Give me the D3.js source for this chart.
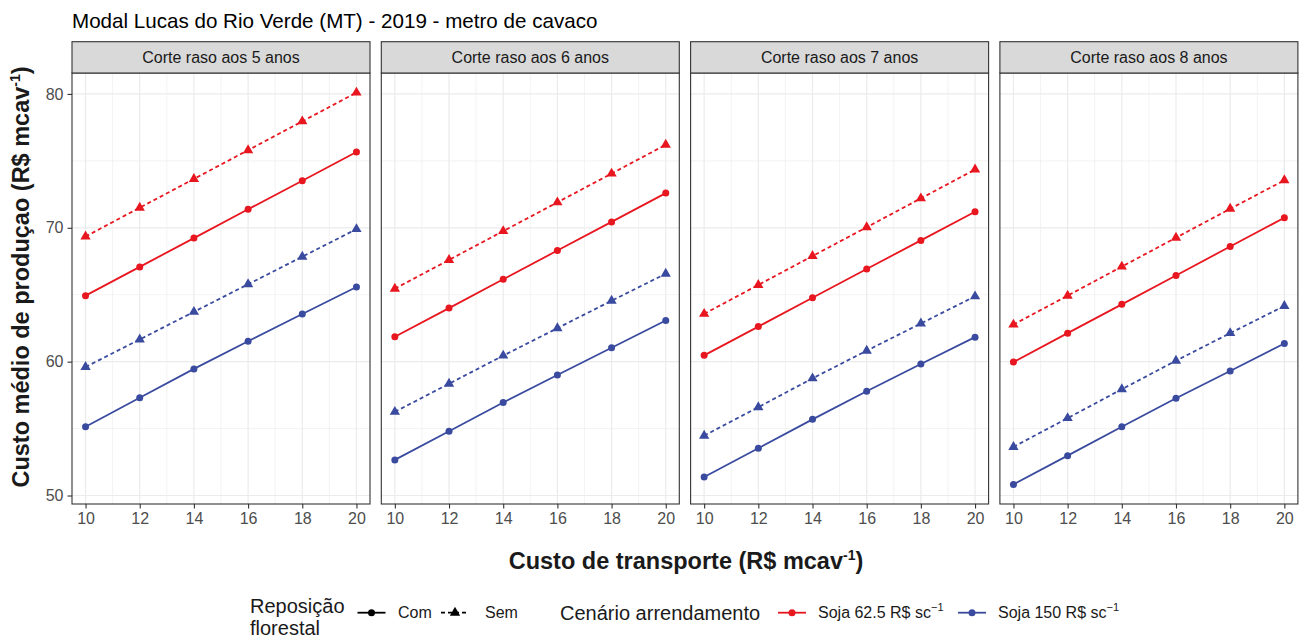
<!DOCTYPE html>
<html>
<head>
<meta charset="utf-8">
<script src="https://cdn.jsdelivr.net/npm/d3@7"></script>
<style>
  html, body { margin: 0; padding: 0; background: #ffffff; }
  svg { display: block; font-family: "Liberation Sans", Arial, Helvetica, sans-serif; }
</style>
</head>
<body>
<svg id="chart" width="1310" height="641"></svg>
<script>
// Transport cost (R$ per m³ of chips) on the x axis
const custoTransporte = [10, 12, 14, 16, 18, 20];

// One facet per clear-cut age
const cortes = ["Corte raso aos 5 anos", "Corte raso aos 6 anos",
                "Corte raso aos 7 anos", "Corte raso aos 8 anos"];

// Average production cost, one row per facet (5, 6, 7, 8 years)
const soja625Com = [
  [64.93, 67.08, 69.23, 71.38, 73.52, 75.66],
  [61.86, 64.00, 66.15, 68.30, 70.44, 72.59],
  [60.47, 62.62, 64.77, 66.92, 69.06, 71.20],
  [59.97, 62.13, 64.28, 66.44, 68.60, 70.75]
];
const soja625Sem = [
  [69.35, 71.50, 73.65, 75.80, 77.95, 80.10],
  [65.45, 67.60, 69.75, 71.90, 74.05, 76.20],
  [63.57, 65.73, 67.89, 70.04, 72.20, 74.35],
  [62.77, 64.93, 67.10, 69.26, 71.42, 73.55]
];
const soja150Com = [
  [55.14, 57.30, 59.46, 61.52, 63.56, 65.58],
  [52.66, 54.80, 56.95, 59.00, 61.04, 63.07],
  [51.38, 53.53, 55.69, 57.79, 59.82, 61.83],
  [50.83, 52.98, 55.14, 57.27, 59.30, 61.36]
];
const soja150Sem = [
  [59.60, 61.66, 63.72, 65.78, 67.84, 69.90],
  [56.25, 58.35, 60.45, 62.50, 64.55, 66.57],
  [54.47, 56.60, 58.75, 60.82, 62.85, 64.88],
  [53.63, 55.78, 57.94, 60.07, 62.13, 64.16]
];

// Axis ticks
const yTicks = [50, 60, 70, 80];
const yMinor = [55, 65, 75];
const xTicks = [10, 12, 14, 16, 18, 20];
const xMinor = [11, 13, 15, 17, 19];

// Legend entries
const reposicao = ["Com", "Sem"];
const cenarios = ["Soja 62.5 R$ sc", "Soja 150 R$ sc"];

const corVermelho = "#E8161F";
const corAzul = "#3A4B9F";

const series = [
  { values: soja625Com, cor: corVermelho, tipo: "Com" },
  { values: soja625Sem, cor: corVermelho, tipo: "Sem" },
  { values: soja150Com, cor: corAzul, tipo: "Com" },
  { values: soja150Sem, cor: corAzul, tipo: "Sem" }
];

const svg = d3.select("#chart");

// Layout
const panelTop = 73, panelBottom = 504;
const stripTop = 41.7;
const panelW = 298;
const panelLeft0 = 72, panelStep = 309.3;

// Shared y scale with 5% expansion around the data range
const allVals = series.flatMap(s => s.values.flat());
const yMin = d3.min(allVals), yMax = d3.max(allVals);
const yPad = (yMax - yMin) * 0.05;
const y = d3.scaleLinear().domain([yMin - yPad, yMax + yPad]).range([panelBottom, panelTop]);

const dash = "4,3";
const lineW = 1.8;
const triSize = 46;
const ptR = 3.5;

// Title
svg.append("text")
  .attr("x", 72).attr("y", 28)
  .attr("font-size", 20.6).attr("fill", "#000")
  .text("Modal Lucas do Rio Verde (MT) - 2019 - metro de cavaco");

cortes.forEach((corte, i) => {
  const left = panelLeft0 + i * panelStep;
  const x = d3.scaleLinear().domain([9.5, 20.5]).range([left, left + panelW]);
  const g = svg.append("g");

  // panel background
  g.append("rect")
    .attr("x", left).attr("y", panelTop)
    .attr("width", panelW).attr("height", panelBottom - panelTop)
    .attr("fill", "#fff");

  // minor grid
  g.selectAll(".ymin").data(yMinor).enter().append("line")
    .attr("x1", left).attr("x2", left + panelW)
    .attr("y1", d => y(d)).attr("y2", d => y(d))
    .attr("stroke", "#EBEBEB").attr("stroke-width", 0.6);
  g.selectAll(".xmin").data(xMinor).enter().append("line")
    .attr("y1", panelTop).attr("y2", panelBottom)
    .attr("x1", d => x(d)).attr("x2", d => x(d))
    .attr("stroke", "#EBEBEB").attr("stroke-width", 0.6);
  // major grid
  g.selectAll(".ymaj").data(yTicks).enter().append("line")
    .attr("x1", left).attr("x2", left + panelW)
    .attr("y1", d => y(d)).attr("y2", d => y(d))
    .attr("stroke", "#EBEBEB").attr("stroke-width", 1.2);
  g.selectAll(".xmaj").data(xTicks).enter().append("line")
    .attr("y1", panelTop).attr("y2", panelBottom)
    .attr("x1", d => x(d)).attr("x2", d => x(d))
    .attr("stroke", "#EBEBEB").attr("stroke-width", 1.2);

  // series
  const line = d3.line().x((d, k) => x(custoTransporte[k])).y(d => y(d));
  series.forEach(s => {
    const vals = s.values[i];
    g.append("path")
      .attr("d", line(vals))
      .attr("fill", "none")
      .attr("stroke", s.cor)
      .attr("stroke-width", lineW)
      .attr("stroke-dasharray", s.tipo === "Sem" ? dash : null);
    if (s.tipo === "Com") {
      g.selectAll(null).data(vals).enter().append("circle")
        .attr("cx", (d, k) => x(custoTransporte[k]))
        .attr("cy", d => y(d))
        .attr("r", ptR)
        .attr("fill", s.cor);
    } else {
      const tri = d3.symbol().type(d3.symbolTriangle).size(triSize);
      g.selectAll(null).data(vals).enter().append("path")
        .attr("d", tri)
        .attr("transform", (d, k) => `translate(${x(custoTransporte[k])},${y(d)})`)
        .attr("fill", s.cor);
    }
  });

  // panel border
  g.append("rect")
    .attr("x", left).attr("y", panelTop)
    .attr("width", panelW).attr("height", panelBottom - panelTop)
    .attr("fill", "none").attr("stroke", "#333333").attr("stroke-width", 1.1);

  // strip
  g.append("rect")
    .attr("x", left).attr("y", stripTop)
    .attr("width", panelW).attr("height", panelTop - stripTop)
    .attr("fill", "#D9D9D9").attr("stroke", "#333333").attr("stroke-width", 1.1);
  g.append("text")
    .attr("x", left + panelW / 2).attr("y", 63)
    .attr("text-anchor", "middle")
    .attr("font-size", 16).attr("fill", "#1A1A1A")
    .text(corte);

  // x axis
  const xAxis = d3.axisBottom(x).tickValues(xTicks).tickSize(4.5).tickPadding(4);
  const xg = g.append("g").attr("transform", `translate(0,${panelBottom})`).call(xAxis);
  xg.select(".domain").remove();
  xg.selectAll(".tick line").attr("stroke", "#333333").attr("stroke-width", 1.1);
  xg.selectAll(".tick text").attr("font-size", 16).attr("fill", "#4D4D4D")
    .attr("font-family", "Liberation Sans, Arial, sans-serif");

  // y axis on the first panel only
  if (i === 0) {
    const yAxis = d3.axisLeft(y).tickValues(yTicks).tickSize(4.5).tickPadding(4);
    const yg = g.append("g").attr("transform", `translate(${left},0)`).call(yAxis);
    yg.select(".domain").remove();
    yg.selectAll(".tick line").attr("stroke", "#333333").attr("stroke-width", 1.1);
    yg.selectAll(".tick text").attr("font-size", 16).attr("fill", "#4D4D4D")
      .attr("font-family", "Liberation Sans, Arial, sans-serif");
  }
});

// Axis titles
const xTitle = svg.append("text")
  .attr("x", 686).attr("y", 569)
  .attr("text-anchor", "middle")
  .attr("font-size", 23.5).attr("font-weight", "bold").attr("fill", "#1A1A1A");
xTitle.append("tspan").text("Custo de transporte (R$ mcav");
xTitle.append("tspan").attr("font-size", 14).attr("dy", -9).text("-1");
xTitle.append("tspan").attr("dy", 9).text(")");

const yTitle = svg.append("text")
  .attr("transform", "translate(29,277) rotate(-90)")
  .attr("text-anchor", "middle")
  .attr("font-size", 23.5).attr("font-weight", "bold").attr("fill", "#1A1A1A");
yTitle.append("tspan").text("Custo médio de produçao (R$ mcav");
yTitle.append("tspan").attr("font-size", 14).attr("dy", -9).text("-1");
yTitle.append("tspan").attr("dy", 9).text(")");

// Legend: Reposição florestal
const leg = svg.append("g");
leg.append("text").attr("x", 250).attr("y", 612.5).attr("font-size", 20).attr("fill", "#1A1A1A").text("Reposição");
leg.append("text").attr("x", 250).attr("y", 635).attr("font-size", 20).attr("fill", "#1A1A1A").text("florestal");

const keyY = 612.7;
const repKeys = [
  { cx: 371.5, textX: 398 },
  { cx: 455, textX: 485 }
];
reposicao.forEach((r, k) => {
  const kx = repKeys[k].cx;
  leg.append("line")
    .attr("x1", kx - 14).attr("x2", kx + 14)
    .attr("y1", keyY).attr("y2", keyY)
    .attr("stroke", "#000").attr("stroke-width", lineW)
    .attr("stroke-dasharray", r === "Sem" ? dash : null);
  if (r === "Com") {
    leg.append("circle").attr("cx", kx).attr("cy", keyY).attr("r", ptR).attr("fill", "#000");
  } else {
    leg.append("path").attr("d", d3.symbol().type(d3.symbolTriangle).size(triSize))
      .attr("transform", `translate(${kx},${keyY})`).attr("fill", "#000");
  }
  leg.append("text").attr("x", repKeys[k].textX).attr("y", keyY + 5.6)
    .attr("font-size", 16).attr("fill", "#1A1A1A").text(r);
});

// Legend: Cenário arrendamento
leg.append("text").attr("x", 560).attr("y", 620).attr("font-size", 20).attr("fill", "#1A1A1A").text("Cenário arrendamento");
const cenKeys = [
  { cx: 792, textX: 818, cor: corVermelho },
  { cx: 972, textX: 998, cor: corAzul }
];
cenarios.forEach((c, k) => {
  const kx = cenKeys[k].cx;
  leg.append("line")
    .attr("x1", kx - 14).attr("x2", kx + 14)
    .attr("y1", keyY).attr("y2", keyY)
    .attr("stroke", cenKeys[k].cor).attr("stroke-width", lineW);
  leg.append("circle").attr("cx", kx).attr("cy", keyY).attr("r", ptR).attr("fill", cenKeys[k].cor);
  const t = leg.append("text").attr("x", cenKeys[k].textX).attr("y", keyY + 5.6)
    .attr("font-size", 16).attr("fill", "#1A1A1A");
  t.append("tspan").text(c);
  t.append("tspan").attr("font-size", 11).attr("dy", -7).text("\u22121");
});
</script>
</body>
</html>
